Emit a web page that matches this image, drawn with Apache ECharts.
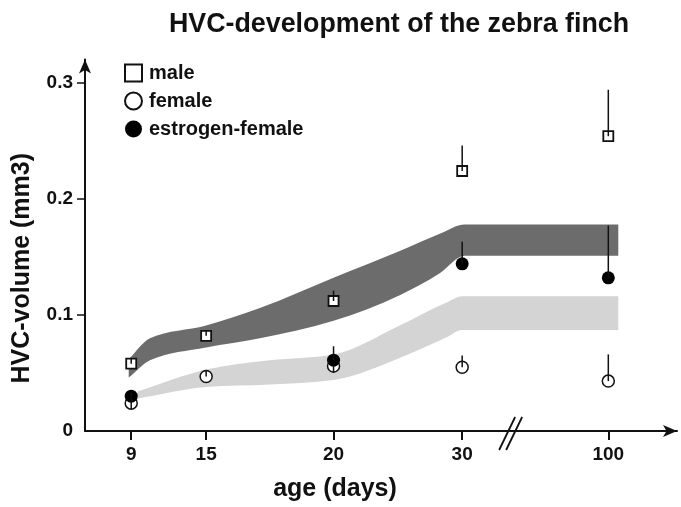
<!DOCTYPE html>
<html>
<head>
<meta charset="utf-8">
<script src="https://cdn.jsdelivr.net/npm/echarts@6/dist/echarts.min.js"></script>
<style>
  html, body { margin: 0; padding: 0; background: #fff; }
  #chart { width: 681px; height: 507px; }
</style>
</head>
<body>
<div id="chart"></div>
<script>
// age categories and their place on the (broken) x axis
const ageLabels = ['9', '15', '20', '30', '100'];
const agePos = [3.7, 9.7, 19.9, 30.2, 41.9];
const yTicks = [0, 0.1, 0.2, 0.3];

// measured means and top / bottom of the error bars
const maleVals = [0.058, 0.082, 0.112, 0.224, 0.254];
const maleTop = [0.063, 0.087, 0.121, 0.246, 0.294];
const femaleVals = [0.024, 0.047, 0.056, 0.055, 0.043];
const femaleLow = [0.019, 0.047, 0.050, 0.055, 0.043];
const femaleTop = [0.029, 0.052, 0.056, 0.065, 0.066];
const estroVals = [0.030, null, 0.061, 0.144, 0.132];
const estroTop = [0.033, null, 0.073, 0.163, 0.177];

// shaded ranges (dark = male range, light = female range)
const darkPos = [3.5, 5.2, 9.7, 14, 19.9, 25.2, 28.4, 30.4, 42.7];
const darkLow = [0.046, 0.061, 0.072, 0.080, 0.095, 0.117, 0.136, 0.151, 0.151];
const darkHigh = [0.062, 0.080, 0.091, 0.106, 0.132, 0.155, 0.170, 0.178, 0.178];
const lightPos = [4.2, 9.7, 14.8, 19.9, 25.2, 29.0, 30.2, 42.7];
const lightLow = [0.028, 0.038, 0.040, 0.044, 0.063, 0.081, 0.087, 0.087];
const lightHigh = [0.034, 0.053, 0.061, 0.066, 0.091, 0.111, 0.116, 0.116];

const breakPos = 34.2;

const font = "'Liberation Sans', Arial, sans-serif";
const ink = '#111';

function pts(xs, ys) {
  const out = [];
  xs.forEach((x, i) => { if (ys[i] != null) out.push([x, ys[i]]); });
  return out;
}
function bars(xs, lo, hi) {
  const out = [];
  xs.forEach((x, i) => { if (lo[i] != null) out.push([x, lo[i], hi[i]]); });
  return out;
}

// monotone cubic through pixel points (x may run either way)
function curve(p, start) {
  const n = p.length;
  const sec = i => (p[i + 1][1] - p[i][1]) / (p[i + 1][0] - p[i][0]);
  const m = p.map((q, i) => {
    if (i === 0) return sec(0);
    if (i === n - 1) return sec(n - 2);
    const h0 = p[i][0] - p[i - 1][0], h1 = p[i + 1][0] - p[i][0];
    const s0 = sec(i - 1), s1 = sec(i);
    const pp = (s0 * h1 + s1 * h0) / (h0 + h1);
    return (Math.sign(s0) + Math.sign(s1)) * Math.min(Math.abs(s0), Math.abs(s1), 0.5 * Math.abs(pp));
  });
  let d = (start ? 'M' : ' L') + p[0][0] + ' ' + p[0][1];
  for (let i = 0; i < n - 1; i++) {
    const b = p[i], c = p[i + 1], h = (c[0] - b[0]) / 3;
    d += ' C' + (b[0] + h) + ' ' + (b[1] + m[i] * h) +
      ' ' + (c[0] - h) + ' ' + (c[1] - m[i + 1] * h) +
      ' ' + c[0] + ' ' + c[1];
  }
  return d;
}
function band(xs, lo, hi, color) {
  return {
    type: 'custom', silent: true, z: 1,
    data: [[xs[0], lo[0]], [xs[xs.length - 1], hi[hi.length - 1]]],
    renderItem: function (params, api) {
      if (params.dataIndex !== 0) return null;
      const top = xs.map((x, i) => api.coord([x, hi[i]]));
      const bot = xs.map((x, i) => api.coord([x, lo[i]])).reverse();
      return {
        type: 'path',
        shape: { pathData: curve(top, true) + curve(bot, false) + ' Z' },
        style: { fill: color, stroke: null }
      };
    }
  };
}
function errSeries(data) {
  return {
    type: 'custom', silent: true, z: 5,
    encode: { x: 0, y: [1, 2] },
    data: data,
    renderItem: function (params, api) {
      const a = api.coord([api.value(0), api.value(1)]);
      const b = api.coord([api.value(0), api.value(2)]);
      return {
        type: 'line',
        shape: { x1: a[0], y1: a[1], x2: b[0], y2: b[1] },
        style: { stroke: ink, lineWidth: 1.5 }
      };
    }
  };
}

const chart = echarts.init(document.getElementById('chart'));
chart.setOption({
  animation: false,
  title: {
    text: 'HVC-development of the zebra finch',
    left: 164, top: 6,
    textStyle: { fontFamily: font, fontSize: 26.8, fontWeight: 'bold', color: ink }
  },
  legend: {
    orient: 'vertical', left: 119, top: 58,
    itemWidth: 17, itemHeight: 17, itemGap: 8,
    data: ['male', 'female', 'estrogen-female'],
    textStyle: { fontFamily: font, fontSize: 20, fontWeight: 'bold', color: ink, padding: [0, 0, 0, 2] }
  },
  grid: { left: 85, right: 4, top: 59.6, bottom: 73 },
  xAxis: {
    type: 'value', min: 0, max: 47.4,
    name: 'age (days)', nameLocation: 'middle', nameGap: 46,
    nameTextStyle: { fontFamily: font, fontSize: 25, fontWeight: 'bold', color: ink, padding: [0, 92, 0, 0] },
    splitLine: { show: false },
    axisLine: { lineStyle: { color: ink, width: 2 }, symbol: ['none', 'arrow'], symbolSize: [9, 14] },
    axisTick: { customValues: agePos, length: 9, lineStyle: { color: ink, width: 2 } },
    axisLabel: {
      customValues: agePos, margin: 14,
      fontFamily: font, fontSize: 19, fontWeight: 'bold', color: ink,
      formatter: v => ageLabels[agePos.indexOf(v)]
    }
  },
  yAxis: {
    type: 'value', min: 0, max: 0.32,
    name: 'HVC-volume (mm3)', nameLocation: 'middle', nameGap: 50, nameRotate: 90,
    nameTextStyle: { fontFamily: font, fontSize: 25, fontWeight: 'bold', color: ink, padding: [0, 46, 0, 0] },
    splitLine: { show: false },
    axisLine: { lineStyle: { color: ink, width: 2 }, symbol: ['none', 'arrow'], symbolSize: [9, 14] },
    axisTick: { customValues: yTicks.slice(1), length: 8, lineStyle: { color: ink, width: 1.5 } },
    axisLabel: {
      customValues: yTicks, margin: 12,
      fontFamily: font, fontSize: 19, fontWeight: 'bold', color: ink,
      formatter: v => (v === 0 ? '0' : v.toFixed(1))
    }
  },
  series: [
    band(darkPos, darkLow, darkHigh, '#6c6c6c'),
    band(lightPos, lightLow, lightHigh, '#d4d4d4'),
    {
      name: 'male', type: 'scatter', symbol: 'rect', symbolSize: 10, z: 4,
      itemStyle: { color: '#fff', borderColor: ink, borderWidth: 1.8, opacity: 1 },
      data: pts(agePos, maleVals)
    },
    {
      name: 'female', type: 'scatter', symbol: 'circle', symbolSize: 12, z: 4,
      itemStyle: { color: '#fff', borderColor: ink, borderWidth: 1.5, opacity: 1 },
      data: pts(agePos, femaleVals)
    },
    {
      name: 'estrogen-female', type: 'scatter', symbol: 'circle', symbolSize: 13, z: 4,
      itemStyle: { color: '#000', opacity: 1 },
      data: pts(agePos, estroVals)
    },
    errSeries(bars(agePos, maleVals, maleTop)),
    errSeries(bars(agePos, femaleLow, femaleTop)),
    errSeries(bars(agePos, estroVals, estroTop)),
    {
      type: 'custom', silent: true, z: 6, clip: false,
      data: [[breakPos, 0]],
      renderItem: function (params, api) {
        const c = api.coord([api.value(0), api.value(1)]);
        return {
          type: 'group',
          children: [
            { type: 'line', shape: { x1: c[0] - 13, y1: c[1] + 19, x2: c[0] + 3, y2: c[1] - 14 }, style: { stroke: ink, lineWidth: 1.8 } },
            { type: 'line', shape: { x1: c[0] - 6, y1: c[1] + 19, x2: c[0] + 10, y2: c[1] - 14 }, style: { stroke: ink, lineWidth: 1.8 } }
          ]
        };
      }
    }
  ]
});
</script>
</body>
</html>
